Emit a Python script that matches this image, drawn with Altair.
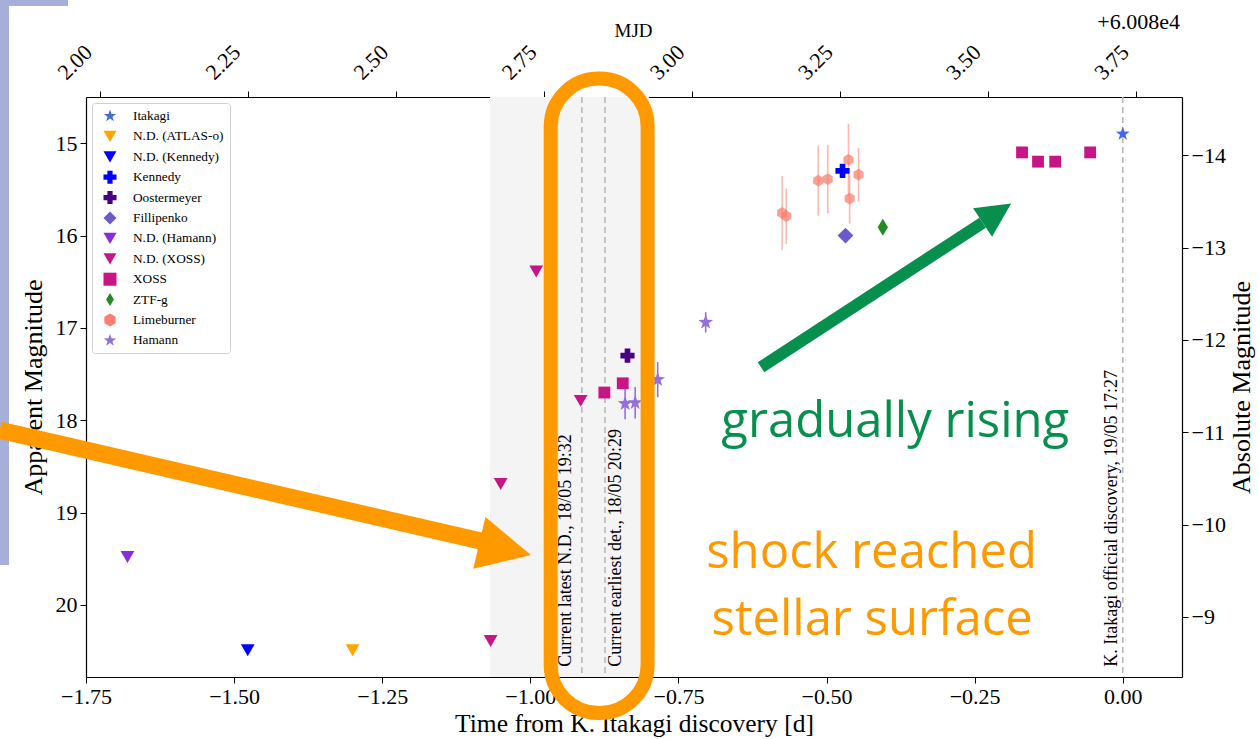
import altair as alt
import pandas as pd

# ---------------- data (time from K. Itakagi discovery [d], apparent magnitude) -------------
ITAKAGI_T = [0.0]
ITAKAGI_M = [14.90]
ATLAS_ND_T = [-1.300]
ATLAS_ND_M = [20.49]
KENNEDY_ND_T = [-1.477]
KENNEDY_ND_M = [20.49]
KENNEDY_T = [-0.473]
KENNEDY_M = [15.30]
OOSTER_T = [-0.836]
OOSTER_M = [17.30]
FILLI_T = [-0.468]
FILLI_M = [16.00]
HAMANN_ND_T = [-1.680]
HAMANN_ND_M = [19.48]
XOSS_ND_T = [-1.067, -1.050, -0.990, -0.915]
XOSS_ND_M = [20.39, 18.69, 16.39, 17.79]
XOSS_T = [-0.875, -0.844, -0.170, -0.143, -0.114, -0.055]
XOSS_M = [17.70, 17.60, 15.10, 15.20, 15.20, 15.10]
ZTF_T = [-0.405]
ZTF_M = [15.91]
LIME_T = [-0.575, -0.568, -0.514, -0.498, -0.463, -0.461, -0.446]
LIME_M = [15.755, 15.79, 15.405, 15.39, 15.18, 15.60, 15.34]
LIME_E = [0.40, 0.30, 0.38, 0.37, 0.39, 0.27, 0.29]
HAMANN_T = [-0.840, -0.823, -0.785, -0.704]
HAMANN_M = [17.82, 17.81, 17.56, 16.94]
HAMANN_E = [0.17, 0.17, 0.19, 0.11]

SOURCES = ["Itakagi", "N.D. (ATLAS-o)", "N.D. (Kennedy)", "Kennedy", "Oostermeyer",
           "Fillipenko", "N.D. (Hamann)", "N.D. (XOSS)", "XOSS", "ZTF-g",
           "Limeburner", "Hamann"]

# vertical markers
VLINE_T = [-0.913, -0.874, 0.0]
VLINE_LABELS = ["Current latest N.D., 18/05 19:32", "Current earliest det., 18/05 20:29",
                "K. Itakagi official discovery, 19/05 17:27"]
VLINE_LABEL_T = [-0.939, -0.855, -0.019]
VLINE_LABEL_M = [20.67, 20.67, 20.67]
BAND_T = [-1.068]
BAND_T2 = [-0.80]

# axes
X_DOMAIN = [-1.75, 0.10]
Y_DOMAIN = [14.50, 20.78]
X_TICKS = [-1.75, -1.50, -1.25, -1.00, -0.75, -0.50, -0.25, 0.00]
Y_TICKS = [15, 16, 17, 18, 19, 20]
MJD_OFFSET = 3.7271          # MJD - 60080 at t = 0
MJD_TICKS = [2.00, 2.25, 2.50, 2.75, 3.00, 3.25, 3.50, 3.75]
DIST_MOD = 29.13
ABS_TICKS = [-14, -13, -12, -11, -10, -9]

# annotations (data coordinates)
ELLIPSE_T = [-0.9656]
ELLIPSE_T2 = [-0.8020]
ELLIPSE_M = [14.30]
ELLIPSE_M2 = [21.17]
ORANGE_SHAFT_T = [-1.8958, -1.0828]
ORANGE_SHAFT_M = [18.107, 19.309]
ORANGE_TIP_T = [-0.999]
ORANGE_TIP_M = [19.46]
GREEN_SHAFT_T = [-0.6106, -0.2365]
GREEN_SHAFT_M = [17.426, 15.861]
GREEN_TIP_T = [-0.1884]
GREEN_TIP_M = [15.654]
GREEN_NOTE = ["gradually rising"]
GREEN_NOTE_T = [-0.384]
GREEN_NOTE_M = [18.18]
ORANGE_NOTE = ["shock reached", "stellar surface"]
ORANGE_NOTE_T = [-0.424, -0.423]
ORANGE_NOTE_M = [19.604, 20.326]

# ---------------- styles -------------
STAR = "M0,-1L0.235,-0.324L0.951,-0.309L0.38,0.124L0.588,0.809L0,0.4L-0.588,0.809L-0.38,0.124L-0.951,-0.309L-0.235,-0.324Z"
HEXAGON = "M0,-1L0.866,-0.5L0.866,0.5L0,1L-0.866,0.5L-0.866,-0.5Z"
THIN_DIAMOND = "M0,-1L0.6,0L0,1L-0.6,0Z"
ARROW_HEAD = "M0,0L-2,-1L-2,1Z"
COLORS = ["#4169E1", "#FFA500", "#0000FF", "#0000FF", "#4B0082", "#6A5ACD",
          "#8A2BE2", "#C71585", "#C71585", "#228B22", "#FA8072", "#9370DB"]
SHAPES = [STAR, "triangle-down", "triangle-down", "cross", "cross", "diamond",
          "triangle-down", "triangle-down", "square", THIN_DIAMOND, HEXAGON, STAR]
MARKER_SIZE = {"Itakagi": 210, "N.D. (ATLAS-o)": 190, "N.D. (Kennedy)": 190, "Kennedy": 200,
               "Oostermeyer": 200, "Fillipenko": 250, "N.D. (Hamann)": 190, "N.D. (XOSS)": 190,
               "XOSS": 140, "ZTF-g": 290, "Limeburner": 135, "Hamann": 240}
ORANGE = "#FF9900"
GREEN = "#078F4E"
DECOR = "#A6AEDA"
SERIF = "Liberation Serif"

# ---------------- tables -------------
rows = []
for src, ts, ms in [
    ("Itakagi", ITAKAGI_T, ITAKAGI_M), ("N.D. (ATLAS-o)", ATLAS_ND_T, ATLAS_ND_M),
    ("N.D. (Kennedy)", KENNEDY_ND_T, KENNEDY_ND_M), ("Kennedy", KENNEDY_T, KENNEDY_M),
    ("Oostermeyer", OOSTER_T, OOSTER_M), ("Fillipenko", FILLI_T, FILLI_M),
    ("N.D. (Hamann)", HAMANN_ND_T, HAMANN_ND_M), ("N.D. (XOSS)", XOSS_ND_T, XOSS_ND_M),
    ("XOSS", XOSS_T, XOSS_M), ("ZTF-g", ZTF_T, ZTF_M),
    ("Limeburner", LIME_T, LIME_M), ("Hamann", HAMANN_T, HAMANN_M)]:
    for t, m in zip(ts, ms):
        rows.append({"src": src, "t": t, "m": m, "sz": MARKER_SIZE[src]})
points = pd.DataFrame(rows)

lime_err = pd.DataFrame({"t": LIME_T, "m": [m - e for m, e in zip(LIME_M, LIME_E)],
                         "m2": [m + e for m, e in zip(LIME_M, LIME_E)]})
ham_err = pd.DataFrame({"t": HAMANN_T, "m": [m - e for m, e in zip(HAMANN_M, HAMANN_E)],
                        "m2": [m + e for m, e in zip(HAMANN_M, HAMANN_E)]})

X = lambda: alt.X("t:Q", scale=alt.Scale(domain=X_DOMAIN, nice=False, zero=False),
                  axis=alt.Axis(title="Time from K. Itakagi discovery [d]", values=X_TICKS, format=".2f",
                                titleY=46, titleBaseline="middle", titleFontSize=25.5))
Y = lambda: alt.Y("m:Q", scale=alt.Scale(domain=Y_DOMAIN, reverse=True, nice=False, zero=False),
                  axis=alt.Axis(title="Apparent Magnitude", values=Y_TICKS, format="d",
                                titleX=-53, titleY=290, titleBaseline="middle"))

one = pd.DataFrame({"k": [0]})
decor_bar = alt.Chart(one).mark_rect(color=DECOR).encode(
    x=alt.value(-86), x2=alt.value(-18), y=alt.value(-97), y2=alt.value(-91))
decor_strip = alt.Chart(one).mark_rect(color=DECOR).encode(
    x=alt.value(-86), x2=alt.value(-77), y=alt.value(-97), y2=alt.value(468))

band = alt.Chart(pd.DataFrame({"t": BAND_T, "t2": BAND_T2})).mark_rect(color="#f4f4f4").encode(
    x=X(), x2="t2:Q")

vlines = alt.Chart(pd.DataFrame({"t": VLINE_T})).mark_rule(
    color="#b9b9b9", strokeDash=[6, 4], strokeWidth=1.6).encode(x=X())

vtext = alt.Chart(pd.DataFrame({"t": VLINE_LABEL_T, "m": VLINE_LABEL_M, "label": VLINE_LABELS})).mark_text(
    angle=270, align="left", baseline="middle", font=SERIF, fontSize=18, color="black").encode(
    x=X(), y=Y(), text="label:N")

lime_bars = alt.Chart(lime_err).mark_rule(strokeWidth=1.6, color="#FA8072", opacity=0.55).encode(
    x=X(), y=Y(), y2="m2:Q")
ham_bars = alt.Chart(ham_err).mark_rule(strokeWidth=1.6, color="#9370DB").encode(
    x=X(), y=Y(), y2="m2:Q")

pts = alt.Chart(points).mark_point(filled=True, strokeWidth=0).encode(
    x=X(), y=Y(),
    color=alt.Color("src:N", scale=alt.Scale(domain=SOURCES, range=COLORS),
                    legend=alt.Legend(title=None, orient="top-left")),
    shape=alt.Shape("src:N", scale=alt.Scale(domain=SOURCES, range=SHAPES),
                    legend=alt.Legend(title=None, orient="top-left")),
    size=alt.Size("sz:Q", scale=None),
    opacity=alt.condition(alt.datum.src == "Limeburner", alt.value(0.75), alt.value(1.0)))

ellipse = alt.Chart(pd.DataFrame({"t": ELLIPSE_T, "t2": ELLIPSE_T2, "m": ELLIPSE_M, "m2": ELLIPSE_M2})).mark_rect(
    fillOpacity=0, stroke=ORANGE, strokeWidth=14, cornerRadius=48).encode(
    x=X(), x2="t2:Q", y=Y(), y2="m2:Q")

orange_shaft = alt.Chart(pd.DataFrame({"t": ORANGE_SHAFT_T, "m": ORANGE_SHAFT_M})).mark_line(
    color=ORANGE, strokeWidth=17, strokeCap="butt").encode(x=X(), y=Y())
orange_head = alt.Chart(pd.DataFrame({"t": ORANGE_TIP_T, "m": ORANGE_TIP_M})).mark_point(
    shape=ARROW_HEAD, filled=True, color=ORANGE, opacity=1, size=2809, angle=13.3, strokeWidth=0).encode(
    x=X(), y=Y())
green_shaft = alt.Chart(pd.DataFrame({"t": GREEN_SHAFT_T, "m": GREEN_SHAFT_M})).mark_line(
    color=GREEN, strokeWidth=12, strokeCap="butt").encode(x=X(), y=Y())
green_head = alt.Chart(pd.DataFrame({"t": GREEN_TIP_T, "m": GREEN_TIP_M})).mark_point(
    shape=ARROW_HEAD, filled=True, color=GREEN, opacity=1, size=1176, angle=326.4, strokeWidth=0).encode(
    x=X(), y=Y())

green_note = alt.Chart(pd.DataFrame({"t": GREEN_NOTE_T, "m": GREEN_NOTE_M, "txt": GREEN_NOTE})).mark_text(
    font="Open Sans", fontSize=49, align="center", baseline="alphabetic", color=GREEN).encode(
    x=X(), y=Y(), text="txt:N")
orange_note = alt.Chart(pd.DataFrame({"t": ORANGE_NOTE_T, "m": ORANGE_NOTE_M, "txt": ORANGE_NOTE})).mark_text(
    font="Open Sans", fontSize=49, align="center", baseline="alphabetic", color=ORANGE).encode(
    x=X(), y=Y(), text="txt:N")

offset_label = alt.Chart(pd.DataFrame({"txt": ["+6.008e4"]})).mark_text(
    font=SERIF, fontSize=22, align="right", baseline="middle", color="black").encode(
    x=alt.value(1094), y=alt.value(-75), text="txt:N")

inner = alt.layer(decor_bar, decor_strip, band, vlines, vtext, lime_bars, ham_bars, pts, ellipse,
                  orange_shaft, orange_head, green_shaft, green_head, green_note, orange_note, offset_label)

top_axis = alt.Chart(pd.DataFrame({"mjd": MJD_TICKS})).mark_rule(opacity=0).encode(
    x=alt.X("mjd:Q",
            scale=alt.Scale(domain=[X_DOMAIN[0] + MJD_OFFSET, X_DOMAIN[1] + MJD_OFFSET], nice=False, zero=False),
            axis=alt.Axis(orient="top", title="MJD", values=MJD_TICKS, format=".2f",
                          labelAngle=315, labelAlign="center", labelBaseline="middle",
                          labelOffset=-25, labelPadding=29, titleX=547, titleY=-67,
                          titleBaseline="middle", titleFontSize=19)))

right_axis = alt.Chart(pd.DataFrame({"absm": ABS_TICKS})).mark_rule(opacity=0).encode(
    y=alt.Y("absm:Q",
            scale=alt.Scale(domain=[Y_DOMAIN[0] - DIST_MOD, Y_DOMAIN[1] - DIST_MOD], reverse=True,
                            nice=False, zero=False),
            axis=alt.Axis(orient="right", title="Absolute Magnitude", values=ABS_TICKS, format="d",
                          titleAngle=270, titleX=59, titleY=290, titleBaseline="middle")))

chart = alt.layer(inner, top_axis, right_axis).resolve_scale(
    x="independent", y="independent"
).properties(
    width=1096, height=580,
    padding={"left": 86, "top": 97, "right": 76, "bottom": 62},
    autosize=alt.AutoSizeParams(type="none"),
).configure_view(stroke=None).configure_axis(
    grid=False, labelFont=SERIF, titleFont=SERIF, labelFontSize=22, titleFontSize=26,
    labelColor="black", titleColor="black", titleFontWeight="normal",
    domainColor="black", domainWidth=1.2, tickColor="black", tickSize=6, tickWidth=1,
    labelPadding=3, labelOverlap=False, labelFlush=False,
).configure_legend(
    labelFont=SERIF, labelFontSize=13.3, labelColor="black", symbolSize=170, rowPadding=6.4,
    padding=6, offset=6, strokeColor="#d0d0d0", cornerRadius=3, fillColor="white",
    labelOffset=16, symbolOffset=5, symbolStrokeWidth=0,
)

chart.save("out.html", embed_options={"renderer": "svg", "actions": False})
